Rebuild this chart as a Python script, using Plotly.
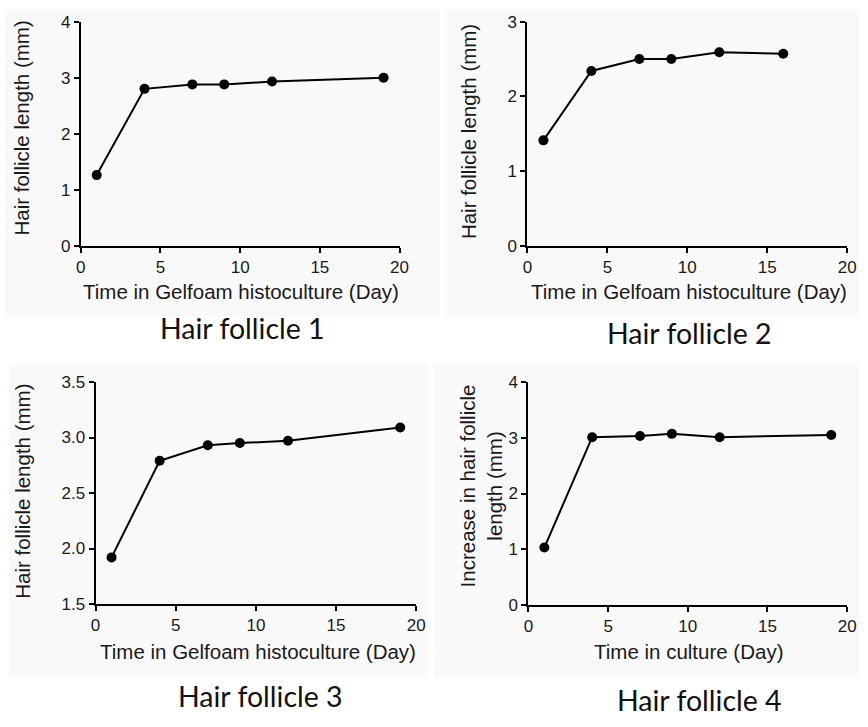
import plotly.graph_objects as go

W, H = 868, 727

# Data
days_1 = [1, 4, 7, 9, 12, 19]
length_1 = [1.26, 2.80, 2.88, 2.88, 2.93, 3.00]
days_2 = [1, 4, 7, 9, 12, 16]
length_2 = [1.41, 2.34, 2.50, 2.50, 2.59, 2.57]
days_3 = [1, 4, 7, 9, 12, 19]
length_3 = [1.92, 2.79, 2.93, 2.95, 2.97, 3.09]
days_4 = [1, 4, 7, 9, 12, 19]
length_4 = [1.03, 3.01, 3.03, 3.07, 3.01, 3.05]

panel_titles = ["Hair follicle 1", "Hair follicle 2", "Hair follicle 3", "Hair follicle 4"]
x_titles = ["Time in Gelfoam histoculture (Day)", "Time in Gelfoam histoculture (Day)",
            "Time in Gelfoam histoculture (Day)", "Time in culture (Day)"]
y_titles = ["Hair follicle length (mm)", "Hair follicle length (mm)",
            "Hair follicle length (mm)", "Increase in hair follicle<br>length (mm)"]
y_ranges = [[0, 4], [0, 3], [1.5, 3.5], [0, 4]]
y_dticks = [1, 1, 0.5, 1]
y_formats = ["d", "d", ".1f", "d"]

series = [(days_1, length_1), (days_2, length_2), (days_3, length_3), (days_4, length_4)]

def px_x(p):
    return p / W

def px_y(p):
    return 1 - p / H

# plot-area boxes in pixels: (left, right, top, bottom)
boxes = [(77, 401, 13, 243), (531, 856, 13, 243), (92, 418, 383, 611), (532, 856, 383, 612)]
# panel backgrounds (left, right, top, bottom)
bgs = [(0, 442, 0, 316), (447, 868, 0, 316), (4, 430, 365, 687), (436, 868, 365, 687)]
xt_pos = [(240, 290), (695, 290), (257, 660), (695, 660)]
yt_pos = [(17, 122), (471, 126), (17, 495), (484, 490)]
tt_pos = [(241, 328), (696, 333), (260, 705), (706, 710)]

fig = go.Figure()
layout = dict(width=W, height=H, margin=dict(l=0, r=0, t=0, b=0),
              paper_bgcolor="white", plot_bgcolor="rgba(0,0,0,0)",
              showlegend=False, shapes=[], annotations=[])

axis_font = dict(family="Liberation Sans, Arial, sans-serif", size=17, color="#1a1a1a")
title_font = dict(family="Liberation Sans, Arial, sans-serif", size=20.5, color="#1a1a1a")

for i, (xs, ys) in enumerate(series):
    n = "" if i == 0 else str(i + 1)
    fig.add_trace(go.Scatter(x=xs, y=ys, mode="lines+markers",
                             line=dict(color="black", width=2),
                             marker=dict(color="black", size=10),
                             cliponaxis=False,
                             xaxis="x" + n, yaxis="y" + n))
    l, r, t, b = boxes[i]
    layout["xaxis" + n] = dict(domain=[px_x(l), px_x(r)], anchor="y" + n, range=[0, 20],
                               tickmode="linear", tick0=0, dtick=5,
                               showline=True, linecolor="black", linewidth=2,
                               ticks="outside", ticklen=5, tickwidth=2, tickcolor="black",
                               showgrid=False, zeroline=False, tickfont=axis_font)
    layout["yaxis" + n] = dict(domain=[px_y(b), px_y(t)], anchor="x" + n, range=y_ranges[i],
                               tickmode="linear", tick0=y_ranges[i][0], dtick=y_dticks[i],
                               tickformat=y_formats[i],
                               showline=True, linecolor="black", linewidth=2,
                               ticks="outside", ticklen=5, tickwidth=2, tickcolor="black",
                               showgrid=False, zeroline=False, tickfont=axis_font)
    bl, br, bt, bb = bgs[i]
    layout["shapes"].append(dict(type="rect", xref="paper", yref="paper",
                                 x0=px_x(bl), x1=px_x(br), y0=px_y(bb), y1=px_y(bt),
                                 fillcolor="#f9f9f9", line=dict(width=0), layer="below"))
    xx, xy = xt_pos[i]
    layout["annotations"].append(dict(text=x_titles[i], xref="paper", yref="paper",
                                      x=px_x(xx), y=px_y(xy), xanchor="center", yanchor="middle",
                                      showarrow=False, font=title_font))
    yx, yy = yt_pos[i]
    layout["annotations"].append(dict(text=y_titles[i], xref="paper", yref="paper",
                                      x=px_x(yx), y=px_y(yy), xanchor="center", yanchor="middle",
                                      textangle=-90, showarrow=False, font=title_font))
    tx, ty = tt_pos[i]
    layout["annotations"].append(dict(text=panel_titles[i], xref="paper", yref="paper",
                                      x=px_x(tx), y=px_y(ty), xanchor="center", yanchor="middle",
                                      showarrow=False,
                                      font=dict(family="Lato, Noto Sans, sans-serif", size=28.5, color="#111111")))

fig.update_layout(**layout)
fig.write_html("out.html", config={"displayModeBar": False},
               post_script="document.body.style.margin='0';")
